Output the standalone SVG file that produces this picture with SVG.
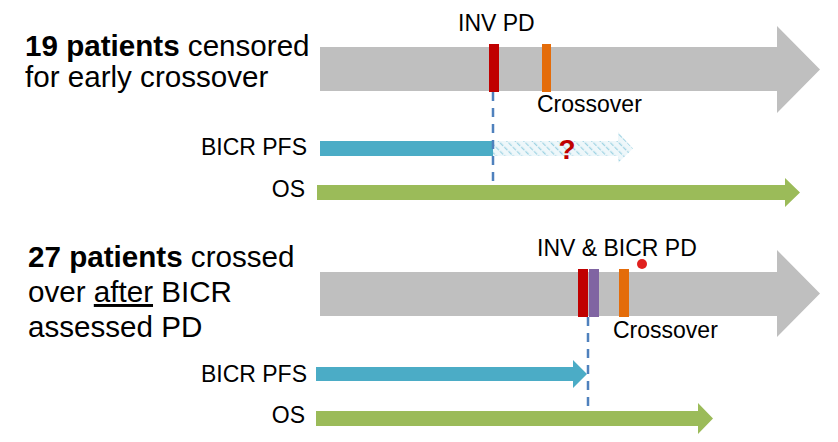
<svg xmlns="http://www.w3.org/2000/svg" width="838" height="442" viewBox="0 0 838 442">
<defs>
<style>
text{font-family:"Liberation Sans",Arial,sans-serif;fill:#000}
.big{font-size:29.6px}
.b{font-weight:bold}
.lbl{font-size:23px}
.gray{fill:#BFBFBF}
.red{fill:#C00000}
.org{fill:#E46C0A}
.pur{fill:#8064A2}
.blue{fill:#4BACC6}
.green{fill:#9BBB59}
.dash{stroke:#4F81BD;stroke-width:2.5;stroke-dasharray:9,7;fill:none}
</style>
<pattern id="hatch" width="6" height="6" patternUnits="userSpaceOnUse" patternTransform="rotate(-45)">
<rect width="6" height="6" fill="#EEF7FA"/>
<line x1="0" y1="0" x2="0" y2="6" stroke="#9FD3E3" stroke-width="2.5" stroke-dasharray="3,1.5"/>
</pattern>
</defs>
<rect width="838" height="442" fill="#fff"/>

<g id="top-text">
<text class="big" x="25" y="56"><tspan class="b">19 patients</tspan> censored</text>
<text class="big" x="25" y="87">for early crossover</text>
</g>

<g id="top-timeline">
<polygon class="gray" points="320,47 777,47 777,26 820,69.5 777,113 777,91 320,91"/>
<rect class="red" x="489" y="44" width="10" height="48"/>
<rect class="org" x="542" y="44" width="9" height="48"/>
<text class="lbl" x="458" y="31">INV PD</text>
<text class="lbl" x="537" y="112">Crossover</text>
</g>

<g id="top-pfs">
<text class="lbl" x="307" y="155" text-anchor="end">BICR PFS</text>
<rect class="blue" x="320" y="141" width="173" height="15"/>
<polygon fill="url(#hatch)" points="493,141 618,141 618,132 633,148.5 618,163 618,156 493,156"/>
<text x="567" y="159" text-anchor="middle" style="font-size:28px;font-weight:bold;fill:#C00000">?</text>
</g>

<g id="top-os">
<text class="lbl" x="305" y="197" text-anchor="end">OS</text>
<polygon class="green" points="317,185 785,185 785,178 800,192.5 785,207 785,200 317,200"/>
</g>

<g id="bottom-text">
<text class="big" x="28" y="267"><tspan class="b">27 patients</tspan> crossed</text>
<text class="big" x="28" y="302">over <tspan text-decoration="underline">after</tspan> BICR</text>
<text class="big" x="28" y="337">assessed PD</text>
</g>

<g id="bottom-timeline">
<polygon class="gray" points="320,272 777,272 777,250 820,293.5 777,337 777,316 320,316"/>
<rect class="red" x="578" y="269" width="10" height="48"/>
<rect class="pur" x="589" y="269" width="10" height="48"/>
<rect class="org" x="619" y="269" width="10" height="48"/>
<circle cx="642" cy="264" r="5" fill="#E0201E"/>
<text class="lbl" x="537" y="256">INV &amp; BICR PD</text>
<text class="lbl" x="613" y="338">Crossover</text>
</g>

<g id="bottom-pfs">
<text class="lbl" x="307" y="382" text-anchor="end">BICR PFS</text>
<polygon class="blue" points="316,367 573,367 573,360 587,374 573,388 573,381 316,381"/>
</g>

<g id="bottom-os">
<text class="lbl" x="305" y="423" text-anchor="end">OS</text>
<polygon class="green" points="316,411 698,411 698,403 713,418.5 698,434 698,426 316,426"/>
</g>

<g id="connectors">
<line class="dash" x1="493" y1="92" x2="493" y2="185"/>
<line class="dash" x1="588" y1="317" x2="588" y2="411"/>
</g>
</svg>
